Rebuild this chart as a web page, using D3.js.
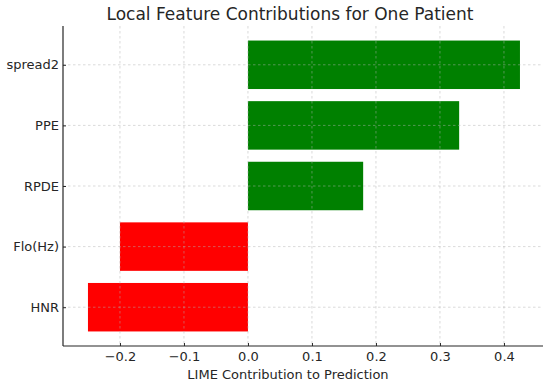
<!DOCTYPE html>
<html><head><meta charset="utf-8">
<script src="https://cdn.jsdelivr.net/npm/d3@7"></script>
<style>body{margin:0;background:#fff}</style>
</head><body>
<script>
const features = ["HNR", "Flo(Hz)", "RPDE", "PPE", "spread2"];
const contributions = [-0.25, -0.2, 0.18, 0.33, 0.425];
const xTicks = [-0.2, -0.1, 0.0, 0.1, 0.2, 0.3, 0.4];
const title = "Local Feature Contributions for One Patient";
const xLabel = "LIME Contribution to Prediction";

const W = 550, H = 382;
const mLeft = 63, mRight = 543, mTop = 26, mBottom = 346;
const svg = d3.select("body").append("svg").attr("width", W).attr("height", H)
  .style("font-family", "DejaVu Sans, sans-serif");

const x = d3.scaleLinear().domain([-0.289, 0.461]).range([mLeft, mRight]);
const y = d3.scaleLinear().domain([-0.64, 4.64]).range([mBottom, mTop]);
const bh = y(0) - y(0.8);

// bars
svg.selectAll("rect.bar").data(contributions).enter().append("rect")
  .attr("x", d => x(Math.min(0, d)))
  .attr("width", d => Math.abs(x(d) - x(0)))
  .attr("y", (d, i) => y(i) - bh / 2)
  .attr("height", bh)
  .attr("fill", d => d >= 0 ? "#008000" : "#ff0000");

// grid
const grid = svg.append("g").attr("stroke", "#b0b0b0").attr("stroke-opacity", 0.6)
  .attr("stroke-dasharray", "2.5,2.5").attr("stroke-width", 0.8);
xTicks.forEach(t => grid.append("line").attr("x1", x(t)).attr("x2", x(t)).attr("y1", mTop).attr("y2", mBottom));
features.forEach((f, i) => grid.append("line").attr("x1", mLeft).attr("x2", mRight).attr("y1", y(i)).attr("y2", y(i)));

// axes
const xAxis = d3.axisBottom(x).tickValues(xTicks).tickFormat(d3.format(".1f")).tickSize(-3).tickPadding(6);
const gx = svg.append("g").attr("transform", `translate(0,${mBottom})`).call(xAxis);
gx.select(".domain").attr("d", `M${mLeft},0H${mRight}`).attr("stroke", "#262626").attr("stroke-width", 1.2);
gx.selectAll("text").attr("font-size", 13).attr("fill", "#262626").attr("font-family", "DejaVu Sans, sans-serif");
gx.selectAll(".tick line").attr("stroke", "#262626");

const yAxis = d3.axisLeft(y).tickValues(d3.range(features.length)).tickFormat(i => features[i]).tickSize(-3).tickPadding(4);
const gy = svg.append("g").attr("transform", `translate(${mLeft},0)`).call(yAxis);
gy.select(".domain").attr("d", `M0,${mTop}V${mBottom}`).attr("stroke", "#262626").attr("stroke-width", 1.2);
gy.selectAll("text").attr("font-size", 13).attr("fill", "#262626").attr("font-family", "DejaVu Sans, sans-serif");
gy.selectAll(".tick line").attr("stroke", "#262626");

svg.append("text").attr("x", 290).attr("y", 20).attr("text-anchor", "middle")
  .attr("font-size", 17).attr("fill", "#262626").text(title);
svg.append("text").attr("x", 288).attr("y", 379).attr("text-anchor", "middle")
  .attr("font-size", 13).attr("fill", "#262626").text(xLabel);
</script>
</body></html>
